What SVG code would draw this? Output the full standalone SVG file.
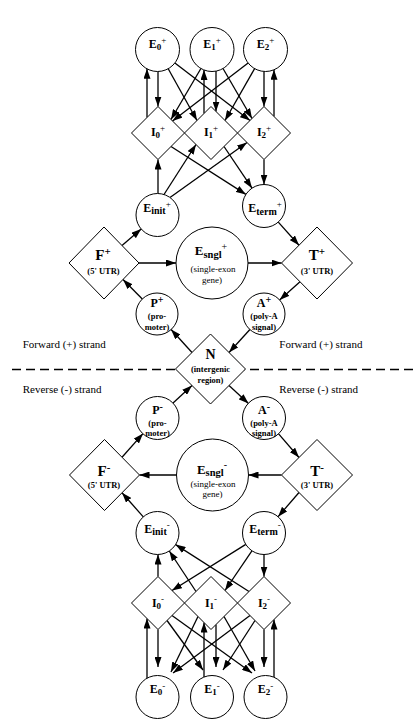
<svg xmlns="http://www.w3.org/2000/svg" width="413" height="721" viewBox="0 0 413 721">
  <style>
    .nd { fill: #fff; stroke: #000; stroke-width: 1; }
    .ed line { stroke: #000; stroke-width: 1.3; marker-end: url(#ah); }
    .t { font-family: "Liberation Serif", "Times New Roman", serif; fill: #000; text-anchor: middle; }
    .b { font-weight: bold; }
    .m { font-size: 12px; font-weight: bold; }
    .s { font-size: 9px; }
    .p { font-size: 9px; font-weight: normal; }
    .sm { font-size: 8.5px; font-weight: bold; }
    .rg { font-size: 9px; font-weight: normal; }
    .big { font-size: 15px; font-weight: bold; }
    .lg { font-family: "Liberation Serif", "Times New Roman", serif; font-size: 11px; fill: #000; }
  </style>
  <defs>
    <marker id="ah" markerUnits="userSpaceOnUse" markerWidth="10" markerHeight="7" refX="10" refY="3.5" orient="auto">
      <path d="M0,0 L10,3.5 L0,7 Z" fill="#000"/>
    </marker>
  </defs>
  <rect width="413" height="721" fill="#fff"/>

  <!-- strand divider -->
  <line x1="12" y1="369.5" x2="413" y2="369.5" stroke="#000" stroke-width="1.6" stroke-dasharray="9 5"/>
  <text class="lg" x="22.7" y="348">Forward (+) strand</text>
  <text class="lg" x="279.3" y="348">Forward (+) strand</text>
  <text class="lg" x="22.7" y="392.5">Reverse (-) strand</text>
  <text class="lg" x="279.3" y="392.5">Reverse (-) strand</text>

  <!-- connectors -->
  <g id="edges" class="ed">
    <!-- forward exons / introns -->
    <line x1="158" y1="71.5" x2="158" y2="106.5"/>
    <line x1="147" y1="117.5" x2="147" y2="68.8"/>
    <line x1="216" y1="71.1" x2="216" y2="111.5"/>
    <line x1="204" y1="113.5" x2="204" y2="70"/>
    <line x1="264" y1="71.4" x2="264" y2="106.5"/>
    <line x1="274" y1="116.5" x2="274" y2="69.8"/>
    <line x1="168.2" y1="68.7" x2="197" y2="120.5"/>
    <line x1="174.9" y1="62.9" x2="250" y2="120.5"/>
    <line x1="200.9" y1="68.5" x2="171" y2="119.5"/>
    <line x1="223" y1="68.5" x2="252" y2="118.5"/>
    <line x1="248.1" y1="62.9" x2="172.5" y2="121"/>
    <line x1="254.6" y1="68.6" x2="225" y2="120.5"/>
    <line x1="158" y1="193.5" x2="158" y2="159.5"/>
    <line x1="164" y1="194.5" x2="196" y2="144.5"/>
    <line x1="170" y1="197.5" x2="247" y2="142.5"/>
    <line x1="171" y1="146.5" x2="245.9" y2="194.4"/>
    <line x1="224" y1="146.5" x2="252" y2="188.2"/>
    <line x1="264" y1="159.5" x2="264" y2="184.5"/>
    <!-- forward gene ends -->
    <line x1="122" y1="245.5" x2="141.2" y2="229"/>
    <line x1="139" y1="263" x2="176" y2="263"/>
    <line x1="248" y1="263" x2="281.5" y2="263"/>
    <line x1="278.3" y1="222.1" x2="299" y2="245.3"/>
    <line x1="300" y1="281.8" x2="279.6" y2="300"/>
    <line x1="249.9" y1="329.5" x2="229" y2="352.5"/>
    <line x1="192" y1="352.5" x2="171.1" y2="329.5"/>
    <line x1="142.3" y1="299" x2="123" y2="279.5"/>
    <!-- reverse gene ends -->
    <line x1="229" y1="385.5" x2="248.5" y2="403.5"/>
    <line x1="172.5" y1="403.5" x2="192" y2="385.5"/>
    <line x1="122" y1="457.3" x2="143" y2="433.6"/>
    <line x1="176.5" y1="475" x2="139.5" y2="475"/>
    <line x1="281.5" y1="475" x2="248.5" y2="475"/>
    <line x1="278.4" y1="433.6" x2="299" y2="457.5"/>
    <line x1="299" y1="492.5" x2="278.1" y2="516.7"/>
    <line x1="143.3" y1="516.9" x2="122" y2="492.75"/>
    <!-- reverse exons / introns -->
    <line x1="158" y1="576.5" x2="158" y2="554.5"/>
    <line x1="196" y1="591.5" x2="169.3" y2="551"/>
    <line x1="249" y1="591.5" x2="175.6" y2="544.6"/>
    <line x1="245.8" y1="544.4" x2="172" y2="590.5"/>
    <line x1="251.9" y1="550.8" x2="225" y2="590.5"/>
    <line x1="264" y1="554.5" x2="264" y2="576.5"/>
    <line x1="158" y1="629.5" x2="158" y2="667"/>
    <line x1="147" y1="678.2" x2="147" y2="618.5"/>
    <line x1="216" y1="624.5" x2="216" y2="667"/>
    <line x1="204" y1="677" x2="204" y2="622.5"/>
    <line x1="264" y1="629.5" x2="264" y2="667"/>
    <line x1="274" y1="677.3" x2="274" y2="619.5"/>
    <line x1="167" y1="620.5" x2="203" y2="670"/>
    <line x1="172" y1="615.5" x2="252" y2="673"/>
    <line x1="198" y1="616.5" x2="171" y2="672"/>
    <line x1="224" y1="616.5" x2="255" y2="671"/>
    <line x1="250" y1="615.5" x2="173" y2="673"/>
    <line x1="255" y1="620.5" x2="223" y2="670"/>
  </g>

  <!-- forward strand nodes -->
  <g id="E0p"><circle class="nd" cx="157.5" cy="49.5" r="22"/>
    <text class="t m" x="157.5" y="47.5">E<tspan class="s" dy="2">0</tspan><tspan class="p" dy="-6.5">+</tspan></text></g>
  <g id="E1p"><circle class="nd" cx="212" cy="49.5" r="22"/>
    <text class="t m" x="212" y="47.5">E<tspan class="s" dy="2">1</tspan><tspan class="p" dy="-6.5">+</tspan></text></g>
  <g id="E2p"><circle class="nd" cx="265.5" cy="49.5" r="22"/>
    <text class="t m" x="265.5" y="47.5">E<tspan class="s" dy="2">2</tspan><tspan class="p" dy="-6.5">+</tspan></text></g>

  <g id="I0p"><polygon class="nd" points="158,106.5 184.5,133 158,159.5 131.5,133"/>
    <text class="t m" x="158" y="135.5">I<tspan class="s" dy="2">0</tspan><tspan class="p" dy="-7">+</tspan></text></g>
  <g id="I1p"><polygon class="nd" points="211,106.5 237.5,133 211,159.5 184.5,133"/>
    <text class="t m" x="211" y="135.5">I<tspan class="s" dy="2">1</tspan><tspan class="p" dy="-7">+</tspan></text></g>
  <g id="I2p"><polygon class="nd" points="264,106.5 290.5,133 264,159.5 237.5,133"/>
    <text class="t m" x="264" y="135.5">I<tspan class="s" dy="2">2</tspan><tspan class="p" dy="-7">+</tspan></text></g>

  <g id="Einitp"><circle class="nd" cx="157.5" cy="215" r="21.5"/>
    <text class="t m" x="157" y="211.5">E<tspan class="b" style="font-size:10px" dy="2.5">init</tspan><tspan class="p" dy="-7.5">+</tspan></text></g>
  <g id="Etermp"><circle class="nd" cx="264" cy="206" r="21.5"/>
    <text class="t m" x="265" y="212">E<tspan class="b" style="font-size:10px" dy="2.5">term</tspan><tspan class="p" dy="-7.5">+</tspan></text></g>

  <g id="Fp"><polygon class="nd" points="104,227 139,263 104,299 69,263"/>
    <text class="t big" x="103" y="260">F<tspan style="font-size:11px" dy="-5">+</tspan></text>
    <text class="t sm" x="103.5" y="274">(5' UTR)</text></g>
  <g id="Esnglp"><circle class="nd" cx="212" cy="263" r="36"/>
    <text class="t b" style="font-size:13px" x="211" y="255">E<tspan style="font-size:10.5px" dy="2.5">sngl</tspan><tspan style="font-size:10px;font-weight:normal" dy="-8">+</tspan></text>
    <text class="t rg" x="213" y="272">(single-exon</text>
    <text class="t rg" x="212" y="283">gene)</text></g>
  <g id="Tp"><polygon class="nd" points="317,227 352.5,263 317,299 281.5,263"/>
    <text class="t big" x="317" y="260">T<tspan style="font-size:11px" dy="-5">+</tspan></text>
    <text class="t sm" x="317" y="273.5">(3' UTR)</text></g>

  <g id="Pp"><circle class="nd" cx="157" cy="314" r="21"/>
    <text class="t m" x="157" y="306.5">P<tspan style="font-size:10px" dy="-4">+</tspan></text>
    <text class="t sm" x="157" y="319">(pro-</text>
    <text class="t sm" x="157" y="329.5">moter)</text></g>
  <g id="Ap"><circle class="nd" cx="264" cy="314" r="21"/>
    <text class="t m" x="264" y="306.5">A<tspan style="font-size:10px" dy="-4">+</tspan></text>
    <text class="t sm" x="264" y="319">(poly-A</text>
    <text class="t sm" x="264" y="329.5">signal)</text></g>

  <g id="N"><polygon class="nd" points="210.5,334 245.5,369 210.5,404 175.5,369"/>
    <text class="t b" style="font-size:14px" x="210.5" y="358.5">N</text>
    <text class="t sm" x="210.5" y="371.5">(intergenic</text>
    <text class="t sm" x="210.5" y="382.5">region)</text></g>

  <!-- reverse strand nodes -->
  <g id="Pm"><circle class="nd" cx="157.5" cy="418" r="21.5"/>
    <text class="t m" x="157.5" y="413.5">P<tspan style="font-size:10px" dy="-4">-</tspan></text>
    <text class="t sm" x="157.5" y="425.5">(pro-</text>
    <text class="t sm" x="157.5" y="435.5">moter)</text></g>
  <g id="Am"><circle class="nd" cx="264" cy="418" r="21.5"/>
    <text class="t m" x="264" y="413.5">A<tspan style="font-size:10px" dy="-4">-</tspan></text>
    <text class="t sm" x="264" y="425.5">(poly-A</text>
    <text class="t sm" x="264" y="435.5">signal)</text></g>

  <g id="Fm"><polygon class="nd" points="104.5,439.5 139.5,475 104.5,510.5 69.5,475"/>
    <text class="t big" x="104" y="476">F<tspan style="font-size:11px" dy="-5">-</tspan></text>
    <text class="t sm" x="104" y="488">(5' UTR)</text></g>
  <g id="Esnglm"><circle class="nd" cx="212.5" cy="475" r="36"/>
    <text class="t b" style="font-size:13px" x="212" y="473.5">E<tspan style="font-size:10.5px" dy="2">sngl</tspan><tspan style="font-size:10px;font-weight:normal" dy="-8">-</tspan></text>
    <text class="t rg" x="213" y="487">(single-exon</text>
    <text class="t rg" x="212.5" y="496.5">gene)</text></g>
  <g id="Tm"><polygon class="nd" points="317,439.5 352.5,475 317,510.5 281.5,475"/>
    <text class="t big" x="317" y="476">T<tspan style="font-size:11px" dy="-5">-</tspan></text>
    <text class="t sm" x="317" y="488">(3' UTR)</text></g>

  <g id="Einitm"><circle class="nd" cx="157.5" cy="533" r="21.5"/>
    <text class="t m" x="157" y="532.5">E<tspan class="b" style="font-size:10px" dy="2.5">init</tspan><tspan class="p" dy="-7.5">-</tspan></text></g>
  <g id="Etermm"><circle class="nd" cx="264" cy="533" r="21.5"/>
    <text class="t m" x="265" y="532.5">E<tspan class="b" style="font-size:10px" dy="2.5">term</tspan><tspan class="p" dy="-7.5">-</tspan></text></g>

  <g id="I0m"><polygon class="nd" points="158,576.5 184.5,603 158,629.5 131.5,603"/>
    <text class="t m" x="158" y="607">I<tspan class="s" dy="2">0</tspan><tspan class="p" dy="-7">-</tspan></text></g>
  <g id="I1m"><polygon class="nd" points="211,576.5 237.5,603 211,629.5 184.5,603"/>
    <text class="t m" x="211" y="607">I<tspan class="s" dy="2">1</tspan><tspan class="p" dy="-7">-</tspan></text></g>
  <g id="I2m"><polygon class="nd" points="264,576.5 290.5,603 264,629.5 237.5,603"/>
    <text class="t m" x="264" y="607">I<tspan class="s" dy="2">2</tspan><tspan class="p" dy="-7">-</tspan></text></g>

  <g id="E0m"><circle class="nd" cx="157.5" cy="697" r="21.5"/>
    <text class="t m" x="157.5" y="693">E<tspan class="s" dy="2">0</tspan><tspan class="p" dy="-6.5">-</tspan></text></g>
  <g id="E1m"><circle class="nd" cx="212" cy="697" r="21.5"/>
    <text class="t m" x="212" y="693">E<tspan class="s" dy="2">1</tspan><tspan class="p" dy="-6.5">-</tspan></text></g>
  <g id="E2m"><circle class="nd" cx="265.5" cy="697" r="21.5"/>
    <text class="t m" x="265.5" y="693">E<tspan class="s" dy="2">2</tspan><tspan class="p" dy="-6.5">-</tspan></text></g>
</svg>
